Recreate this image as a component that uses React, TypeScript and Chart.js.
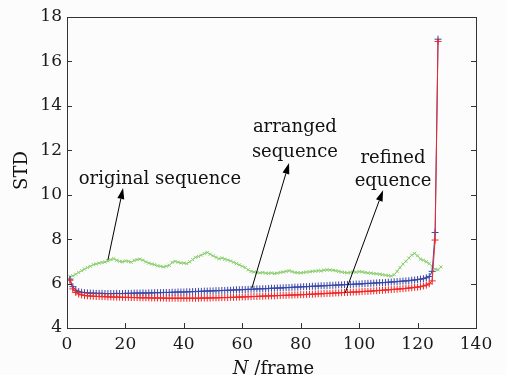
import React, { useEffect, useRef } from "react";
import { Chart, registerables } from "chart.js";

Chart.register(...registerables);

// STD per frame (frame numbers start at 1)
const originalSeq = [
  6.30, 6.35, 6.42, 6.50, 6.58, 6.65, 6.72, 6.78, 6.85, 6.88,
  6.92, 6.95, 6.97, 7.02, 7.08, 7.12, 7.05, 7.00, 6.98, 7.02,
  7.00, 6.96, 7.04, 7.08, 7.10, 7.05, 6.98, 6.92, 6.88, 6.85,
  6.80, 6.78, 6.75, 6.78, 6.82, 6.95, 7.00, 6.96, 6.93, 6.92,
  6.90, 6.98, 7.08, 7.18, 7.22, 7.28, 7.35, 7.40, 7.32, 7.25,
  7.18, 7.12, 7.15, 7.10, 7.06, 7.02, 6.96, 6.90, 6.84, 6.78,
  6.72, 6.62, 6.55, 6.52, 6.50, 6.48, 6.50, 6.47, 6.46, 6.48,
  6.45, 6.47, 6.50, 6.52, 6.55, 6.58, 6.54, 6.50, 6.49, 6.48,
  6.50, 6.52, 6.53, 6.55, 6.56, 6.58, 6.57, 6.60, 6.62, 6.61,
  6.60, 6.58, 6.55, 6.52, 6.50, 6.48, 6.50, 6.53, 6.51, 6.54,
  6.53, 6.50, 6.48, 6.47, 6.45, 6.44, 6.42, 6.40, 6.38, 6.36,
  6.34, 6.40, 6.55, 6.72, 6.88, 7.00, 7.15, 7.28, 7.36, 7.25,
  7.10, 7.05, 6.98, 6.90, 6.78, 6.65, 6.62, 6.75,
];

const arrangedSeq = [
  6.20, 5.86, 5.70, 5.64, 5.61, 5.59, 5.58, 5.57, 5.57, 5.56,
  5.56, 5.56, 5.55, 5.55, 5.55, 5.55, 5.56, 5.55, 5.55, 5.56,
  5.56, 5.56, 5.57, 5.57, 5.57, 5.58, 5.57, 5.58, 5.58, 5.59,
  5.59, 5.59, 5.60, 5.60, 5.60, 5.61, 5.61, 5.62, 5.62, 5.62,
  5.63, 5.63, 5.64, 5.64, 5.65, 5.65, 5.66, 5.66, 5.67, 5.67,
  5.68, 5.68, 5.69, 5.69, 5.70, 5.70, 5.71, 5.72, 5.72, 5.73,
  5.73, 5.74, 5.74, 5.75, 5.76, 5.76, 5.77, 5.77, 5.78, 5.79,
  5.79, 5.80, 5.80, 5.81, 5.82, 5.82, 5.83, 5.84, 5.84, 5.85,
  5.86, 5.86, 5.87, 5.88, 5.88, 5.89, 5.90, 5.90, 5.91, 5.92,
  5.92, 5.93, 5.94, 5.94, 5.95, 5.96, 5.96, 5.97, 5.98, 5.98,
  5.99, 6.00, 6.01, 6.01, 6.02, 6.03, 6.04, 6.04, 6.05, 6.06,
  6.07, 6.08, 6.09, 6.10, 6.11, 6.12, 6.13, 6.15, 6.16, 6.18,
  6.20, 6.22, 6.26, 6.32, 6.55, 8.30, 17.00,
];

const refinedSeq = [
  6.15, 5.76, 5.60, 5.53, 5.49, 5.46, 5.45, 5.44, 5.43, 5.42,
  5.42, 5.41, 5.41, 5.40, 5.40, 5.39, 5.39, 5.39, 5.38, 5.38,
  5.38, 5.37, 5.37, 5.37, 5.36, 5.36, 5.36, 5.36, 5.35, 5.35,
  5.35, 5.35, 5.35, 5.34, 5.34, 5.34, 5.34, 5.34, 5.34, 5.34,
  5.34, 5.34, 5.34, 5.34, 5.34, 5.35, 5.35, 5.35, 5.35, 5.36,
  5.36, 5.36, 5.37, 5.37, 5.37, 5.38, 5.38, 5.39, 5.39, 5.40,
  5.40, 5.41, 5.41, 5.42, 5.42, 5.43, 5.43, 5.44, 5.44, 5.45,
  5.45, 5.46, 5.46, 5.47, 5.47, 5.48, 5.48, 5.49, 5.49, 5.50,
  5.50, 5.51, 5.52, 5.52, 5.53, 5.54, 5.54, 5.55, 5.56, 5.56,
  5.57, 5.58, 5.58, 5.59, 5.60, 5.60, 5.61, 5.62, 5.62, 5.63,
  5.64, 5.65, 5.65, 5.66, 5.67, 5.68, 5.69, 5.70, 5.71, 5.72,
  5.73, 5.74, 5.75, 5.76, 5.77, 5.78, 5.80, 5.81, 5.83, 5.84,
  5.86, 5.89, 5.93, 5.99, 6.12, 7.96, 16.90,
];

const xTicks = [0, 20, 40, 60, 80, 100, 120, 140];
const yTicks = [4, 6, 8, 10, 12, 14, 16, 18];

const xTitleItalic = "N";
const xTitleRest = " /frame";
const yTitle = "STD";

// annotation labels (data units) and arrows [tailX, tailY, headX, headY]
const labelTexts = ["original sequence", "arranged", "sequence", "refined", "equence"];
const labelX = [31.8, 78, 78, 111.6, 111.6];
const labelY = [10.7, 13.05, 11.92, 11.65, 10.62];
const arrowTail = [[14.0, 7.06], [63.3, 5.8], [95.2, 5.58]];
const arrowHead = [[19.2, 10.3], [76.0, 11.43], [108.2, 10.2]];

const FONT = "'DejaVu Serif', serif";

function toPoints(vals: number[]) {
  return vals.map((v, i) => ({ x: i + 1, y: v }));
}

const decor = {
  id: "decor",
  beforeDraw(chart: any) {
    const { ctx, width, height } = chart;
    ctx.save();
    ctx.fillStyle = "#fcfcfc";
    ctx.fillRect(0, 0, width, height);
    ctx.restore();
  },
  afterDraw(chart: any) {
    const { ctx, chartArea: a } = chart;
    const xs = chart.scales.x;
    const ys = chart.scales.y;
    ctx.save();
    ctx.strokeStyle = "#333";
    ctx.lineWidth = 1;
    ctx.strokeRect(Math.round(a.left) + 0.5, Math.round(a.top) + 0.5, Math.round(a.right - a.left), Math.round(a.bottom - a.top));
    ctx.beginPath();
    for (const v of yTicks) {
      const py = Math.round(ys.getPixelForValue(v)) + 0.5;
      ctx.moveTo(a.left, py);
      ctx.lineTo(a.left + 5, py);
      ctx.moveTo(a.right, py);
      ctx.lineTo(a.right - 5, py);
    }
    for (const v of xTicks) {
      const px = Math.round(xs.getPixelForValue(v)) + 0.5;
      ctx.moveTo(px, a.bottom);
      ctx.lineTo(px, a.bottom - 5);
    }
    ctx.stroke();

    // arrows
    ctx.strokeStyle = "#000";
    ctx.fillStyle = "#000";
    for (let i = 0; i < arrowTail.length; i++) {
      const x1 = xs.getPixelForValue(arrowTail[i][0]);
      const y1 = ys.getPixelForValue(arrowTail[i][1]);
      const x2 = xs.getPixelForValue(arrowHead[i][0]);
      const y2 = ys.getPixelForValue(arrowHead[i][1]);
      const ang = Math.atan2(y2 - y1, x2 - x1);
      const L = 11, W = 3.5;
      const bx = x2 - L * Math.cos(ang);
      const by = y2 - L * Math.sin(ang);
      ctx.beginPath();
      ctx.moveTo(x1, y1);
      ctx.lineTo(bx, by);
      ctx.stroke();
      ctx.beginPath();
      ctx.moveTo(x2, y2);
      ctx.lineTo(bx + W * Math.sin(ang), by - W * Math.cos(ang));
      ctx.lineTo(bx - W * Math.sin(ang), by + W * Math.cos(ang));
      ctx.closePath();
      ctx.fill();
    }

    // labels
    ctx.font = `18px ${FONT}`;
    ctx.textAlign = "center";
    ctx.textBaseline = "middle";
    ctx.fillStyle = "#111";
    for (let i = 0; i < labelTexts.length; i++) {
      ctx.fillText(labelTexts[i], xs.getPixelForValue(labelX[i]), ys.getPixelForValue(labelY[i]));
    }

    // y title
    ctx.save();
    ctx.translate(27, (a.top + a.bottom) / 2 - 2);
    ctx.rotate(-Math.PI / 2);
    ctx.textAlign = "center";
    ctx.textBaseline = "alphabetic";
    ctx.fillText(yTitle, 0, 0);
    ctx.restore();

    // x title
    ctx.textBaseline = "alphabetic";
    ctx.textAlign = "left";
    ctx.font = `italic 18px ${FONT}`;
    const w1 = ctx.measureText(xTitleItalic).width;
    ctx.font = `18px ${FONT}`;
    const w2 = ctx.measureText(xTitleRest).width;
    const cx = (a.left + a.right) / 2 + 2;
    const sx = cx - (w1 + w2) / 2;
    ctx.font = `italic 18px ${FONT}`;
    ctx.fillText(xTitleItalic, sx, 374);
    ctx.font = `18px ${FONT}`;
    ctx.fillText(xTitleRest, sx + w1, 374);
    ctx.restore();
  },
};

export default function App() {
  const ref = useRef<HTMLCanvasElement>(null);
  useEffect(() => {
    document.body.style.margin = "0";
    const chart = new Chart(ref.current as HTMLCanvasElement, {
      type: "line",
      data: {
        datasets: [
          {
            label: "refined equence",
            data: toPoints(refinedSeq),
            borderColor: "#f02828",
            backgroundColor: "#f02828",
            borderWidth: 1,
            pointStyle: "cross",
            pointRadius: 3.5,
            pointBorderWidth: 1,
          },
          {
            label: "arranged sequence",
            data: toPoints(arrangedSeq),
            borderColor: "#3a48a8",
            backgroundColor: "#3a48a8",
            borderWidth: 1,
            pointStyle: "cross",
            pointRadius: 3.5,
            pointBorderWidth: 1,
          },
          {
            label: "original sequence",
            data: toPoints(originalSeq),
            borderColor: "#8ccf70",
            backgroundColor: "#8ccf70",
            borderWidth: 1,
            pointStyle: "crossRot",
            pointRadius: 2.2,
            pointBorderWidth: 1,
          },
        ],
      },
      options: {
        responsive: false,
        animation: false,
        events: [],
        layout: { padding: { top: 17, right: 30, left: 0, bottom: 0 } },
        plugins: { legend: { display: false }, tooltip: { enabled: false } },
        scales: {
          x: {
            type: "linear",
            min: 0,
            max: 140,
            afterFit: (s: any) => { s.height = 47; },
            afterBuildTicks: (s: any) => { s.ticks = xTicks.map((v) => ({ value: v })); },
            grid: { display: false, drawTicks: false },
            border: { display: false },
            ticks: { padding: 6, color: "#1a1a1a", font: { family: FONT, size: 17 } },
          },
          y: {
            type: "linear",
            min: 4,
            max: 18,
            afterFit: (s: any) => { s.width = 67; },
            afterBuildTicks: (s: any) => { s.ticks = yTicks.map((v) => ({ value: v })); },
            grid: { display: false, drawTicks: false },
            border: { display: false },
            ticks: { padding: 5, color: "#1a1a1a", font: { family: FONT, size: 17 } },
          },
        },
      },
      plugins: [decor],
    });
    return () => chart.destroy();
  }, []);
  return (
    <div style={{ position: "fixed", left: 0, top: 0, width: 506, height: 375 }}>
      <canvas ref={ref} width={506} height={375} />
    </div>
  );
}
